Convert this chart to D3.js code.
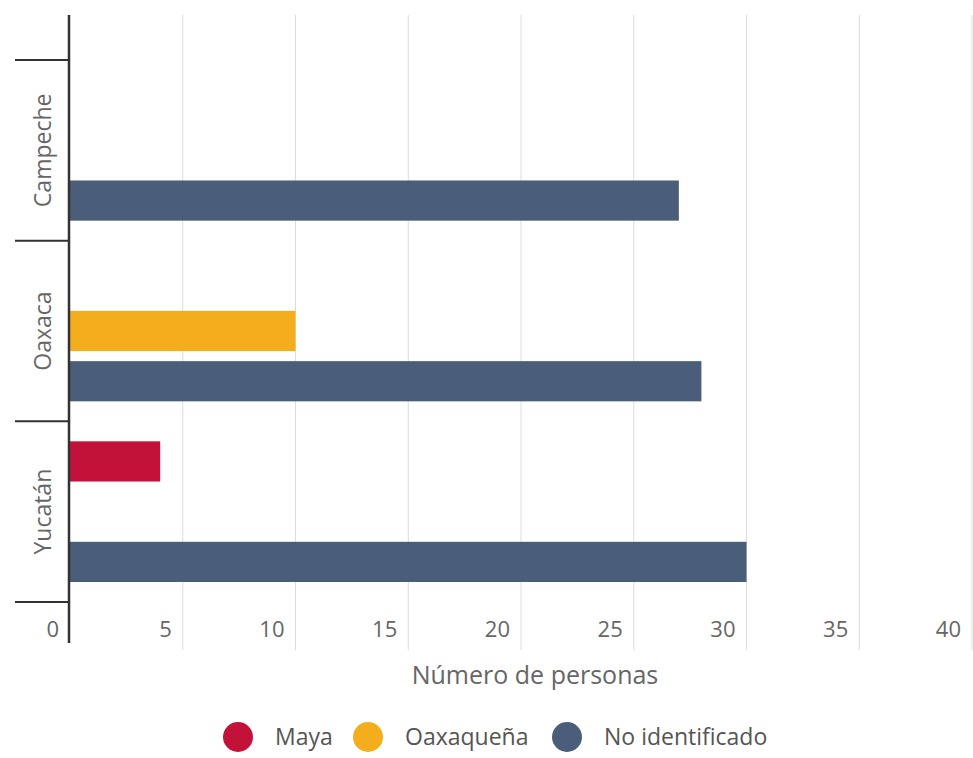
<!DOCTYPE html>
<html>
<head>
<meta charset="utf-8">
<script src="https://cdn.jsdelivr.net/npm/d3@7"></script>
<style>
  body { margin: 0; background: #fff; }
  svg { font-family: "Open Sans", sans-serif; }
</style>
</head>
<body>
<svg id="chart" width="973" height="758"></svg>
<script>
// data
const estados = ["Campeche", "Oaxaca", "Yucatán"];
const grupos = ["Maya", "Oaxaqueña", "No identificado"];
const maya = [0, 0, 4];
const oaxaquena = [0, 10, 0];
const noIdentificado = [27, 28, 30];
const xTicks = [0, 5, 10, 15, 20, 25, 30, 35, 40];
const colores = ["#c2123a", "#f3ad1d", "#4a5e79"];

const series = [maya, oaxaquena, noIdentificado];

const svg = d3.select("#chart");

const x = d3.scaleLinear().domain([0, 40]).range([70, 972]);
const y0 = d3.scaleBand().domain(estados).range([60, 602]);
const y1 = d3.scaleBand().domain(grupos)
  .range([20, y0.bandwidth() - 20])
  .paddingInner(0.2);
const color = d3.scaleOrdinal().domain(grupos).range(colores);

// grid lines
svg.append("g")
  .selectAll("line")
  .data(xTicks.filter(d => d > 0))
  .enter()
  .append("line")
  .attr("x1", d => x(d)).attr("x2", d => x(d))
  .attr("y1", 15).attr("y2", 650)
  .attr("stroke", "#dcdcdc")
  .attr("stroke-width", 1);

// x tick labels
svg.append("g")
  .selectAll("text")
  .data(xTicks)
  .enter()
  .append("text")
  .attr("x", d => x(d) - 11)
  .attr("y", 637)
  .attr("text-anchor", "end")
  .attr("fill", "#666")
  .style("font-size", "22px")
  .text(d => d);

// bars
const rows = estados.map((e, i) => ({
  estado: e,
  valores: grupos.map((g, j) => ({ grupo: g, valor: series[j][i] }))
}));

svg.append("g")
  .selectAll("g")
  .data(rows)
  .enter()
  .append("g")
  .attr("transform", d => `translate(0,${y0(d.estado)})`)
  .selectAll("rect")
  .data(d => d.valores.filter(v => v.valor > 0))
  .enter()
  .append("rect")
  .attr("x", x(0))
  .attr("y", d => y1(d.grupo))
  .attr("width", d => x(d.valor) - x(0))
  .attr("height", y1.bandwidth())
  .attr("fill", d => color(d.grupo));

// y axis line + category ticks
svg.append("line")
  .attr("x1", 69).attr("x2", 69)
  .attr("y1", 15).attr("y2", 643)
  .attr("stroke", "#333")
  .attr("stroke-width", 2.5);

const bordes = estados.map(e => y0(e)).concat([y0.range()[1]]);
svg.append("g")
  .selectAll("line")
  .data(bordes)
  .enter()
  .append("line")
  .attr("x1", 15).attr("x2", 69)
  .attr("y1", d => d).attr("y2", d => d)
  .attr("stroke", "#333")
  .attr("stroke-width", 2);

// category labels
svg.append("g")
  .selectAll("text")
  .data(estados)
  .enter()
  .append("text")
  .attr("transform", d => `translate(42,${y0(d) + y0.bandwidth() / 2}) rotate(-90)`)
  .attr("text-anchor", "middle")
  .attr("dominant-baseline", "central")
  .attr("fill", "#666")
  .style("font-size", "23px")
  .text(d => d);

// axis title
svg.append("text")
  .attr("x", 535)
  .attr("y", 684)
  .attr("text-anchor", "middle")
  .attr("fill", "#666")
  .style("font-size", "25px")
  .text("Número de personas");

// legend
const legendPos = [238, 368, 567];
const legend = svg.append("g")
  .selectAll("g")
  .data(grupos)
  .enter()
  .append("g")
  .attr("transform", (d, i) => `translate(${legendPos[i]},737)`);

legend.append("circle")
  .attr("r", 15)
  .attr("fill", d => color(d));

legend.append("text")
  .attr("x", 37)
  .attr("y", 8)
  .attr("fill", "#555")
  .style("font-size", "23px")
  .text(d => d);
</script>
</body>
</html>
